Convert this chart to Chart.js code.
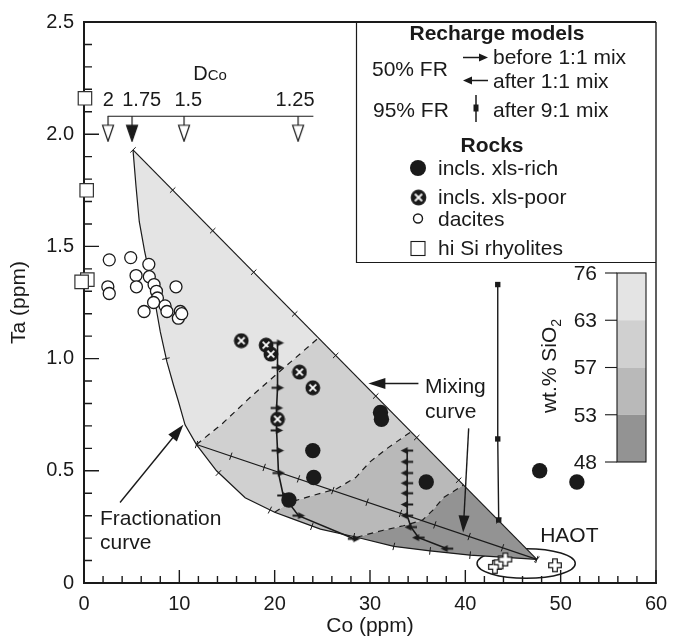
<!DOCTYPE html>
<html>
<head>
<meta charset="utf-8">
<script src="https://cdn.jsdelivr.net/npm/chart.js@4.4.1/dist/chart.umd.min.js"></script>
<style>
  html, body { margin: 0; padding: 0; background: #fff; }
</style>
</head>
<body>
<canvas id="chart" width="678" height="642"></canvas>
<script>
// values: [Co ppm, Ta ppm]
const dacites = [[2.65,1.44],[4.9,1.45],[6.8,1.42],[5.46,1.37],[6.85,1.365],[2.5,1.32],[2.65,1.29],
  [5.5,1.32],[7.35,1.33],[7.6,1.30],[7.7,1.27],[7.3,1.25],[9.65,1.32],[6.3,1.21],[8.5,1.235],
  [8.7,1.21],[10.1,1.21],[9.9,1.18],[10.25,1.20]];
const rhyolites = [[0.1,2.16],[0.28,1.75],[0.35,1.352],[-0.25,1.342]];
const xlsRich = [[31.1,0.76],[31.2,0.73],[24.0,0.59],[24.1,0.47],[21.5,0.37],[35.9,0.45],[47.8,0.50],[51.7,0.45]];
const xlsPoor = [[16.5,1.08],[19.1,1.06],[19.6,1.02],[22.6,0.94],[24.0,0.87],[20.3,0.73]];
const haot = [[43.1,0.072],[43.7,0.092],[44.2,0.105],[49.4,0.079]];
const haotEllipse = [46.38, 0.087, 5.15, 0.066]; // centre Co, centre Ta, half width, half height

// model curves
const mixingLine = [[5.14,1.93],[47.5,0.105]];
const fracUpper = [[5.14,1.93],[5.45,1.77],[5.8,1.61],[6.35,1.48],[6.9,1.37],[7.5,1.24],[8.0,1.12],
  [8.7,0.985],[9.4,0.88],[9.9,0.81],[10.6,0.705],[11.8,0.617]];
const fracLower = [[11.8,0.617],[13.9,0.50],[16.9,0.38],[20.0,0.315],[21.6,0.29],[24.8,0.24],
  [28.6,0.204],[32.5,0.163],[36.3,0.143],[40.5,0.124],[47.5,0.105]];
const fracStraight = [[11.8,0.617],[47.5,0.105]];
const iso63 = [[11.8,0.617],[14.5,0.71],[17.5,0.83],[21.0,0.96],[24.6,1.092]];
const iso57 = [[20.0,0.315],[21.6,0.36],[24.0,0.39],[26.5,0.42],[28.5,0.47],[30.0,0.54],[31.8,0.60],[34.3,0.674]];
const iso53 = [[28.6,0.204],[31.4,0.235],[33.5,0.255],[35.5,0.28],[36.6,0.325],[37.7,0.38],[39.8,0.437]];
const silicaLevels = ['76','63','57','53','48'];
const zoneColors = ['#e4e4e4','#d0d0d0','#b9b9b9','#939393'];

const mixTicks = [[5.14,1.93],[9.3,1.751],[13.5,1.57],[17.8,1.385],[22.1,1.199],[26.4,1.014],
  [30.6,0.833],[34.9,0.648],[39.3,0.458],[43.5,0.277],[47.5,0.105]];
const straightTicks = [[11.8,0.617],[15.4,0.565],[18.9,0.515],[22.5,0.464],[26.1,0.412],[29.7,0.36],
  [33.2,0.31],[36.8,0.259],[40.4,0.207],[43.9,0.157],[47.5,0.105]];
const fracTicks = [[8.6,1.0],[14.1,0.49],[19.5,0.325],[23.9,0.252],[28.3,0.206],[32.5,0.163],[36.3,0.143],[40.5,0.124]];

// recharge models
const before11 = [[20.3,1.07],[20.3,0.96],[20.3,0.87],[20.2,0.78],[20.2,0.68],[20.3,0.59],[20.4,0.49],
  [20.9,0.39],[22.5,0.30],[28.3,0.197]];
const after11 = [[33.9,0.59],[33.9,0.54],[33.9,0.49],[33.9,0.445],[33.9,0.40],[33.9,0.35],[33.9,0.30],
  [34.3,0.249],[35.1,0.202],[38.1,0.153]];
const after91 = [[43.4,1.33],[43.4,0.642],[43.5,0.281]];

// D(Co) scale
const dcoLine = [[2.48,2.08],[24.06,2.08]];
const dcoMarks = [[2.52,2.08],[5.04,2.08],[10.49,2.08],[22.46,2.08]];
const dcoLabels = ['2','1.75','1.5','1.25'];
const dcoLabelCo = [2.55,6.05,10.94,22.14];

// notes: text, Co, Ta (baseline)
const notes = [['Mixing',35.78,0.845],['curve',35.78,0.734],['Fractionation',1.68,0.26],['curve',1.68,0.153],['HAOT',47.85,0.182]];
const noteArrows = [[35.08,0.889,29.83,0.889],[3.78,0.359,10.42,0.705],[40.35,0.689,39.77,0.225]];

const FONT = "'Liberation Sans', Arial, Helvetica, sans-serif";
const INK = '#1a1a1a';
const pts = a => a.map(p => ({x: p[0], y: p[1]}));
const rev = a => a.slice().reverse();

function sprite(w, h, draw) {
  const c = document.createElement('canvas');
  c.width = w; c.height = h;
  draw(c.getContext('2d'));
  return c;
}
const xCircle = sprite(16, 16, g => {
  g.fillStyle = INK; g.beginPath(); g.arc(8, 8, 7.4, 0, Math.PI * 2); g.fill();
  g.strokeStyle = '#fff'; g.lineWidth = 1.8; g.beginPath();
  g.moveTo(4.6, 4.6); g.lineTo(11.4, 11.4); g.moveTo(11.4, 4.6); g.lineTo(4.6, 11.4); g.stroke();
});
const openPlus = sprite(16, 16, g => {
  const c = 8, a = 2.3, l = 6.3;
  g.beginPath();
  g.moveTo(c - a, c - l); g.lineTo(c + a, c - l); g.lineTo(c + a, c - a); g.lineTo(c + l, c - a);
  g.lineTo(c + l, c + a); g.lineTo(c + a, c + a); g.lineTo(c + a, c + l); g.lineTo(c - a, c + l);
  g.lineTo(c - a, c + a); g.lineTo(c - l, c + a); g.lineTo(c - l, c - a); g.lineTo(c - a, c - a);
  g.closePath(); g.fillStyle = '#fff'; g.fill(); g.strokeStyle = INK; g.lineWidth = 1.2; g.stroke();
});
function arrowSprite(dir) {
  return sprite(14, 9, g => {
    if (dir < 0) { g.translate(14, 0); g.scale(-1, 1); }
    g.strokeStyle = g.fillStyle = INK; g.lineWidth = 2;
    g.beginPath(); g.moveTo(1, 4.5); g.lineTo(8, 4.5); g.stroke();
    g.beginPath(); g.moveTo(6.5, 1); g.lineTo(13.5, 4.5); g.lineTo(6.5, 8); g.closePath(); g.fill();
  });
}
const arrowR = arrowSprite(1), arrowL = arrowSprite(-1);
function dropSprite(filled) {
  return sprite(14, 52, g => {
    g.strokeStyle = INK; g.lineWidth = 1.2;
    g.beginPath(); g.moveTo(7, 26); g.lineTo(7, 35); g.stroke();
    g.beginPath(); g.moveTo(1.5, 35); g.lineTo(12.5, 35); g.lineTo(7, 51); g.closePath();
    g.fillStyle = filled ? INK : '#fff'; g.fill(); g.stroke();
  });
}
const dropOpen = dropSprite(false), dropFilled = dropSprite(true);

function tickRot(ctx, curve) {
  const p = ctx.raw;
  if (!p) return 0;
  const sx = ctx.chart.scales.x, sy = ctx.chart.scales.y;
  let i = 0;
  while (i < curve.length - 2 && p.x > curve[i + 1][0]) i++;
  const dx = sx.getPixelForValue(curve[i + 1][0]) - sx.getPixelForValue(curve[i][0]);
  const dy = sy.getPixelForValue(curve[i + 1][1]) - sy.getPixelForValue(curve[i][1]);
  return Math.atan2(dy, dx) * 180 / Math.PI + 90;
}

// shaded SiO2 fields built from the boundary curves
const zone1 = [mixingLine[0]].concat(rev(iso63), rev(fracUpper));
const zone2 = iso63.concat(rev(iso57), rev(fracLower.filter(p => p[0] <= iso57[0][0])));
const zone3 = iso57.concat(rev(iso53), rev(fracLower.filter(p => p[0] >= iso57[0][0] && p[0] <= iso53[0][0])));
const zone4 = iso53.concat([mixingLine[1]], rev(fracLower.filter(p => p[0] >= iso53[0][0])));
const fracCurve = fracUpper.concat(fracLower.slice(1));

const zone = (data, i) => ({data: pts(data), backgroundColor: zoneColors[i], borderColor: 'rgba(0,0,0,0)',
  borderWidth: 0, pointRadius: 0, fill: 'shape', order: 90});
const curve = (data, extra) => Object.assign({data: pts(data), borderColor: INK, borderWidth: 1.2,
  pointRadius: 0, fill: false, order: 70}, extra);
const ticks = (data, along) => ({data: pts(data), showLine: false, pointStyle: 'line', pointRadius: 3.8,
  pointBorderWidth: 1, pointBorderColor: INK, pointRotation: c => tickRot(c, along), order: 65});

const datasets = [
  zone(zone1, 0), zone(zone2, 1), zone(zone3, 2), zone(zone4, 3),
  curve(iso63, {borderDash: [6, 5], order: 80}),
  curve(iso57, {borderDash: [6, 5], order: 80}),
  curve(iso53, {borderDash: [6, 5], order: 80}),
  curve(mixingLine), curve(fracCurve), curve(fracStraight),
  ticks(mixTicks, mixingLine), ticks(straightTicks, fracStraight), ticks(fracTicks, fracCurve),
  curve(dcoLine, {order: 60}),
  {data: pts(dcoMarks), showLine: false, pointStyle: dcoMarks.map((p, i) => i === 1 ? dropFilled : dropOpen),
    pointRadius: 5, clip: false, order: 60},
  curve(before11, {borderWidth: 1.6, pointStyle: arrowR, pointRadius: 5, order: 50}),
  curve(after11, {borderWidth: 1.6, pointStyle: arrowL, pointRadius: 5, order: 50}),
  curve(after91, {borderWidth: 1.4, pointStyle: 'rect', pointRadius: 3.8, pointBackgroundColor: INK,
    pointBorderColor: INK, pointBorderWidth: 0, order: 50}),
  {data: pts(xlsRich), showLine: false, pointStyle: 'circle', pointRadius: 7.7, pointBackgroundColor: INK,
    pointBorderColor: INK, pointBorderWidth: 0, order: 30},
  {data: pts(xlsPoor), showLine: false, pointStyle: xCircle, pointRadius: 7, order: 29},
  {data: pts(dacites), showLine: false, pointStyle: 'circle', pointRadius: 6, pointBackgroundColor: '#fff',
    pointBorderColor: INK, pointBorderWidth: 1.3, order: 28},
  {data: pts(rhyolites), showLine: false, pointStyle: 'rect', pointRadius: 9.5, pointBackgroundColor: '#fff',
    pointBorderColor: '#333', pointBorderWidth: 1.2, clip: false, order: 27},
  {data: pts(haot), showLine: false, pointStyle: openPlus, pointRadius: 7, clip: false, order: 26}
];

function drawArrow(ctx, x1, y1, x2, y2, len, wid) {
  const a = Math.atan2(y2 - y1, x2 - x1), c = Math.cos(a), s = Math.sin(a);
  ctx.beginPath(); ctx.moveTo(x1, y1); ctx.lineTo(x2 - c * len * 0.7, y2 - s * len * 0.7); ctx.stroke();
  ctx.beginPath(); ctx.moveTo(x2, y2);
  ctx.lineTo(x2 - c * len + s * wid / 2, y2 - s * len - c * wid / 2);
  ctx.lineTo(x2 - c * len - s * wid / 2, y2 - s * len + c * wid / 2);
  ctx.closePath(); ctx.fill();
}

const frame = {
  id: 'frame',
  beforeDatasetsDraw(chart) {
    const {ctx, chartArea: a, scales: {x, y}} = chart;
    ctx.save();
    ctx.strokeStyle = INK;
    ctx.lineWidth = 1.4;
    ctx.beginPath();
    for (let v = 0; v <= 60; v += 2) {
      const px = x.getPixelForValue(v), len = v % 10 === 0 ? 13 : 7;
      ctx.moveTo(px, a.bottom); ctx.lineTo(px, a.bottom - len);
    }
    for (let k = 0; k <= 25; k++) {
      const py = y.getPixelForValue(k / 10), len = k % 5 === 0 ? 15 : 8;
      ctx.moveTo(a.left, py); ctx.lineTo(a.left + len, py);
    }
    ctx.stroke();
    ctx.lineWidth = 2;
    ctx.beginPath(); ctx.moveTo(a.left - 1, a.top); ctx.lineTo(a.right, a.top); ctx.stroke();
    ctx.lineWidth = 1.4;
    ctx.beginPath(); ctx.moveTo(a.right, a.top); ctx.lineTo(a.right, a.bottom); ctx.stroke();
    // HAOT field
    const [cx, cy, hw, hh] = haotEllipse;
    const px = x.getPixelForValue(cx), py = y.getPixelForValue(cy);
    ctx.lineWidth = 1.5;
    ctx.beginPath();
    ctx.ellipse(px, py, x.getPixelForValue(cx + hw) - px, py - y.getPixelForValue(cy + hh), 0, 0, Math.PI * 2);
    ctx.stroke();
    ctx.restore();
  },
  afterDatasetsDraw(chart) {
    const {ctx, chartArea: a, scales: {x, y}} = chart;
    const X = v => x.getPixelForValue(v), Y = v => y.getPixelForValue(v);
    ctx.save();
    ctx.fillStyle = ctx.strokeStyle = INK;
    ctx.lineWidth = 1.4;
    for (const r of noteArrows) drawArrow(ctx, X(r[0]), Y(r[1]), X(r[2]), Y(r[3]), 17, 11);
    ctx.font = '21px ' + FONT; ctx.textAlign = 'left'; ctx.textBaseline = 'alphabetic';
    for (const n of notes) ctx.fillText(n[0], X(n[1]), Y(n[2]));

    // D(Co) scale labels
    ctx.font = '20px ' + FONT; ctx.textAlign = 'center';
    dcoLabels.forEach((t, i) => ctx.fillText(t, X(dcoLabelCo[i]), Y(2.125)));
    ctx.textAlign = 'left';
    ctx.font = '20px ' + FONT;
    const dx = X(11.47), dy = Y(2.243);
    ctx.fillText('D', dx, dy);
    const dw = ctx.measureText('D').width;
    ctx.font = '15px ' + FONT;
    ctx.fillText('Co', dx + dw, dy);

    // legend box
    const L = 356.5, B = 262.5;
    ctx.lineWidth = 1.2;
    ctx.beginPath(); ctx.moveTo(L, a.top); ctx.lineTo(L, B); ctx.lineTo(a.right, B); ctx.stroke();
    ctx.font = 'bold 21px ' + FONT; ctx.textAlign = 'center';
    ctx.fillText('Recharge models', 497, 40);
    ctx.fillText('Rocks', 492, 152);
    ctx.font = '21px ' + FONT; ctx.textAlign = 'left';
    ctx.fillText('50% FR', 372, 76);
    ctx.fillText('95% FR', 373, 117);
    ctx.fillText('before 1:1 mix', 493, 64);
    ctx.fillText('after 1:1 mix', 493, 88);
    ctx.fillText('after 9:1 mix', 493, 117);
    ctx.fillText('incls. xls-rich', 438, 175);
    ctx.fillText('incls. xls-poor', 438, 204);
    ctx.fillText('dacites', 438, 226);
    ctx.fillText('hi Si rhyolites', 438, 255);
    ctx.lineWidth = 1.5;
    drawArrow(ctx, 463, 57.5, 488, 57.5, 9, 8);
    drawArrow(ctx, 488, 80.5, 463, 80.5, 9, 8);
    ctx.beginPath(); ctx.moveTo(476, 95); ctx.lineTo(476, 122); ctx.stroke();
    ctx.fillRect(473.5, 104.5, 5, 7);
    ctx.beginPath(); ctx.arc(418, 168, 8, 0, Math.PI * 2); ctx.fill();
    ctx.drawImage(xCircle, 410, 189, 17, 17);
    ctx.lineWidth = 1.4;
    ctx.beginPath(); ctx.arc(418, 218.5, 4.5, 0, Math.PI * 2); ctx.stroke();
    ctx.lineWidth = 1.1;
    ctx.strokeRect(411, 241.5, 14, 14);

    // SiO2 colour key
    const kR = a.right - 10, kL = kR - 29, kT = 273, kB = 462, step = (kB - kT) / zoneColors.length;
    zoneColors.forEach((c, i) => { ctx.fillStyle = c; ctx.fillRect(kL, kT + i * step, kR - kL, step); });
    ctx.fillStyle = INK; ctx.lineWidth = 1.1;
    ctx.strokeRect(kL, kT, kR - kL, kB - kT);
    ctx.font = '21px ' + FONT; ctx.textAlign = 'right'; ctx.textBaseline = 'middle';
    silicaLevels.forEach((t, i) => {
      const ty = kT + i * step;
      ctx.beginPath(); ctx.moveTo(kL - 12, ty); ctx.lineTo(kL, ty); ctx.stroke();
      ctx.fillText(t, kL - 20, ty + 1);
    });
    ctx.translate(548, 366); ctx.rotate(-Math.PI / 2);
    ctx.textAlign = 'left'; ctx.textBaseline = 'alphabetic';
    const main = 'wt.% SiO';
    const w1 = ctx.measureText(main).width;
    ctx.font = '14px ' + FONT;
    const w2 = ctx.measureText('2').width;
    ctx.fillText('2', -(w1 + w2) / 2 + w1, 12.5);
    ctx.font = '21px ' + FONT;
    ctx.fillText(main, -(w1 + w2) / 2, 7.5);
    ctx.restore();
  }
};

Chart.defaults.font.family = FONT;
Chart.defaults.color = INK;

new Chart(document.getElementById('chart'), {
  type: 'line',
  data: {datasets},
  options: {
    responsive: false,
    animation: false,
    events: [],
    layout: {padding: {top: 16, right: 22, left: 0, bottom: 0}},
    plugins: {legend: {display: false}, tooltip: {enabled: false}},
    scales: {
      x: {
        type: 'linear', min: 0, max: 60,
        afterFit: s => { s.height = 59; },
        ticks: {stepSize: 10, font: {size: 20}, padding: 9, maxRotation: 0},
        grid: {display: false, drawTicks: false},
        border: {display: true, color: INK, width: 2},
        title: {display: true, text: 'Co (ppm)', font: {size: 21}, padding: {top: 0, bottom: 3}}
      },
      y: {
        type: 'linear', min: 0, max: 2.5,
        afterFit: s => { s.width = 84; },
        ticks: {stepSize: 0.5, font: {size: 20}, padding: 10, callback: v => v === 0 ? '0' : v.toFixed(1)},
        grid: {display: false, drawTicks: false},
        border: {display: true, color: INK, width: 2},
        title: {display: true, text: 'Ta (ppm)', font: {size: 21}, padding: {top: 7, bottom: 0}}
      }
    }
  },
  plugins: [frame]
});
</script>
</body>
</html>
